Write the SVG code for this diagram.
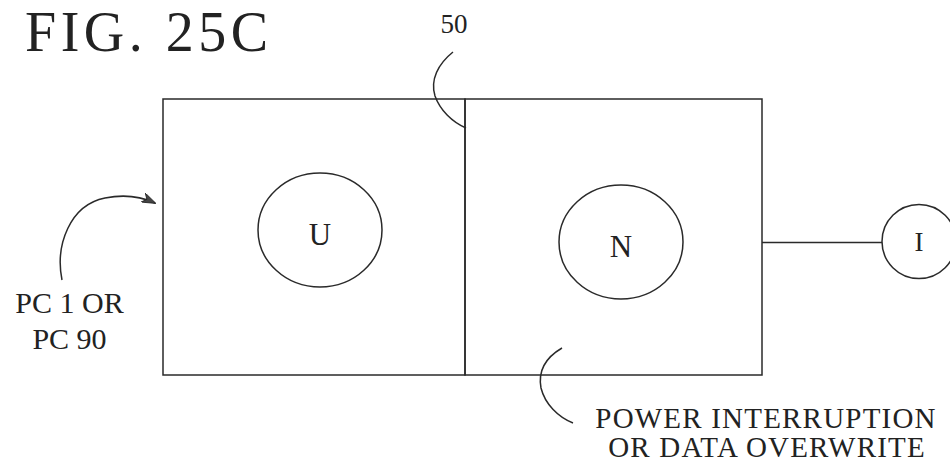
<svg xmlns="http://www.w3.org/2000/svg" width="950" height="474" viewBox="0 0 950 474">
<style>
.ln{fill:none;stroke:#2a2a2a;stroke-width:1.5}
.t{font-family:"Liberation Serif","Times New Roman",serif;fill:#222}
</style>
<defs>
<marker id="ah" markerWidth="14" markerHeight="10" refX="13" refY="5" orient="auto" markerUnits="userSpaceOnUse">
<path d="M0,0 L14,5 L0,10 L4,5 Z" fill="#444" stroke="#222" stroke-width="0.8"/>
</marker>
</defs>
<rect width="950" height="474" fill="#fff"/>
<text class="t" x="25" y="51" font-size="56" letter-spacing="4.5">FIG. 25C</text>
<g id="box-pc">
<rect class="ln" x="163" y="99" width="302" height="276"/>
</g>
<g id="box-50">
<rect class="ln" x="465" y="99" width="297" height="276"/>
</g>
<g id="node-u">
<ellipse class="ln" cx="320" cy="230" rx="62" ry="57"/>
<text class="t" x="320" y="245" font-size="31" text-anchor="middle">U</text>
</g>
<g id="node-n">
<ellipse class="ln" cx="621" cy="242" rx="62" ry="57"/>
<text class="t" x="621" y="257" font-size="31" text-anchor="middle">N</text>
</g>
<g id="node-i">
<circle class="ln" cx="919" cy="241.5" r="37"/>
<text class="t" x="919" y="251" font-size="27" text-anchor="middle">I</text>
</g>
<g id="label-50">
<text class="t" x="454" y="33" font-size="27" text-anchor="middle">50</text>
</g>
<g id="label-pc">
<text class="t" x="69.5" y="313" font-size="30" text-anchor="middle">PC 1 OR</text>
<text class="t" x="69.5" y="349" font-size="30" text-anchor="middle">PC 90</text>
</g>
<g id="label-power">
<text class="t" x="766" y="428" font-size="29" text-anchor="middle" letter-spacing="1.2">POWER INTERRUPTION</text>
<text class="t" x="767" y="457" font-size="29" text-anchor="middle" letter-spacing="1.2">OR DATA OVERWRITE</text>
</g>
<g id="connectors">
<line class="ln" x1="762" y1="242.5" x2="882" y2="242.5"/>
<path class="ln" d="M453,52 C438,64 430,80 435,96 C440,110 452,122 466,128"/>
<path class="ln" d="M62,280 C55,245 70,205 105,198 C125,194 142,197 155,203" marker-end="url(#ah)"/>
<path class="ln" d="M562,348 C545,358 538,372 541,388 C545,404 558,417 573,423"/>
</g>
</svg>
